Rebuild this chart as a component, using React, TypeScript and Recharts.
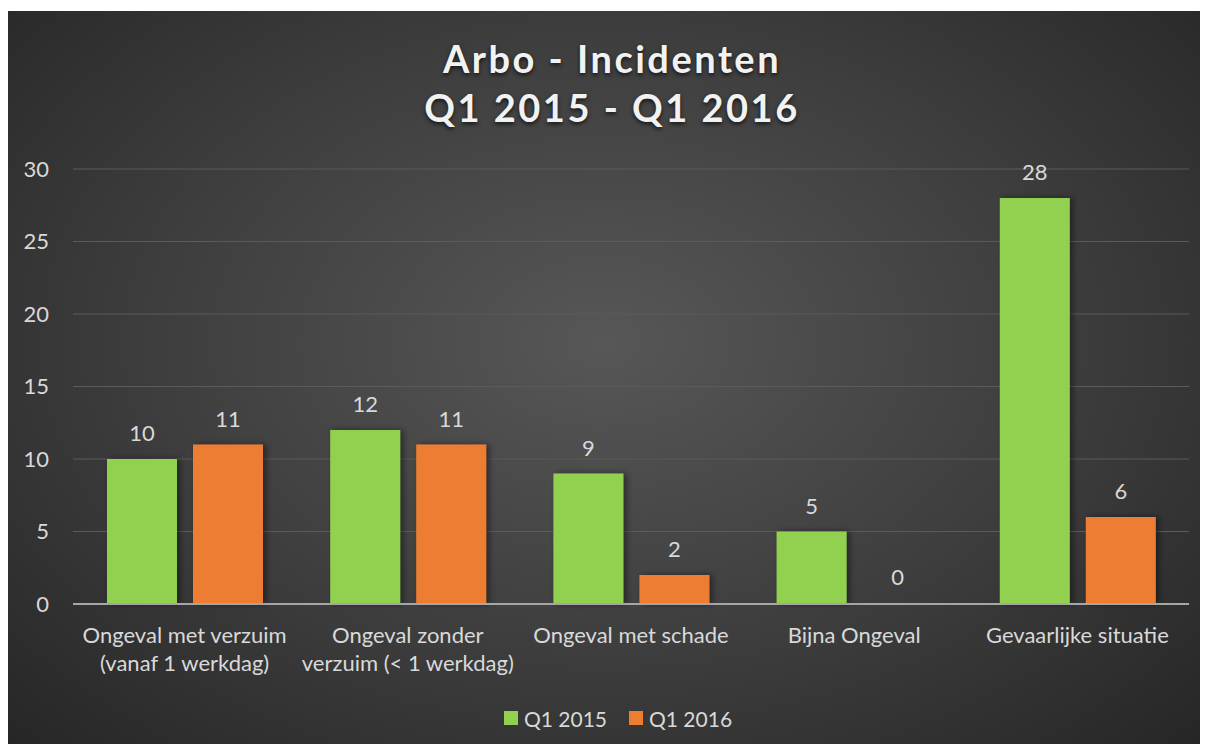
import React from 'react';
import { BarChart, Bar, XAxis, YAxis, CartesianGrid, Legend, LabelList, Rectangle } from 'recharts';

const categories = [
  'Ongeval met verzuim\n(vanaf 1 werkdag)',
  'Ongeval zonder\nverzuim (< 1 werkdag)',
  'Ongeval met schade',
  'Bijna Ongeval',
  'Gevaarlijke situatie',
];
const q2015Values = [10, 12, 9, 5, 28];
const q2016Values = [11, 11, 2, 0, 6];
const seriesNames = ['Q1 2015', 'Q1 2016'];
const seriesColors = ['#92D050', '#ED7D31'];
const yTicks = [0, 5, 10, 15, 20, 25, 30];
const titleLines = ['Arbo - Incidenten', 'Q1 2015 - Q1 2016'];

const data = categories.map((c, i) => ({ name: c, q2015: q2015Values[i], q2016: q2016Values[i] }));

const TEXT = '#d9d9d9';
const FONT = 'Lato, "Open Sans", sans-serif';

const XTick = (props: any) => {
  const { x, y, payload } = props;
  const lines = String(payload.value).split('\n');
  return (
    <g>
      {lines.map((l: string, i: number) => (
        <text key={i} x={x} y={y + 31 + i * 28} textAnchor="middle" fill={TEXT} fontSize={22} fontFamily={FONT}>
          {l}
        </text>
      ))}
    </g>
  );
};

const BarShape = (props: any) => {
  if (!props.value) return <g />;
  return <Rectangle {...props} />;
};

const LegendContent = () => (
  <div style={{ display: 'flex', justifyContent: 'center', alignItems: 'center', height: 30, paddingLeft: 39, fontFamily: FONT }}>
    {seriesNames.map((n, i) => (
      <div key={n} style={{ display: 'flex', alignItems: 'center', marginRight: i === 0 ? 22 : 0 }}>
        <div style={{ width: 14, height: 14, background: seriesColors[i], marginRight: 6 }} />
        <span style={{ color: TEXT, fontSize: 21 }}>{n}</span>
      </div>
    ))}
  </div>
);

export default function App() {
  return (
    <div
      style={{
        position: 'relative',
        top: 3,
        width: 1192,
        height: 736,
        background: 'radial-gradient(ellipse at 50% 45%, #575757 0%, #3d3d3d 55%, #262626 100%)',
        fontFamily: FONT,
      }}
    >
      <div
        style={{
          position: 'absolute',
          top: 23,
          left: 0,
          width: 1192,
          textAlign: 'center',
          paddingLeft: 16,
          boxSizing: 'border-box',
          color: '#f2f2f2',
          fontWeight: 700,
          fontSize: 38,
          lineHeight: '49px',
          letterSpacing: 2.5,
          textShadow: '0 2px 4px rgba(0,0,0,0.7)',
          fontFamily: FONT,
        }}
      >
        {titleLines.map((t) => (
          <div key={t}>{t}</div>
        ))}
      </div>
      <BarChart
        width={1192}
        height={736}
        data={data}
        margin={{ top: 158, right: 11, bottom: 14, left: 0 }}
        barSize={70}
        barGap={16}
      >
        <defs>
          <filter id="barShadow" x="-20%" y="-20%" width="150%" height="140%">
            <feDropShadow dx="3" dy="0" stdDeviation="3" floodColor="#000" floodOpacity="0.45" />
          </filter>
        </defs>
        <CartesianGrid vertical={false} stroke="#5b5b5b" strokeWidth={1} />
        <YAxis
          width={65}
          domain={[0, 30]}
          ticks={yTicks}
          axisLine={false}
          tickLine={false}
          tickSize={0}
          tickMargin={24}
          tick={{ fill: TEXT, fontSize: 22, fontFamily: FONT }}
        />
        <XAxis
          dataKey="name"
          height={99}
          interval={0}
          axisLine={{ stroke: '#a6a6a6', strokeWidth: 2 }}
          tickLine={false}
          tick={<XTick />}
        />
        <Legend verticalAlign="bottom" height={30} content={<LegendContent />} />
        <Bar
          dataKey="q2015"
          name={seriesNames[0]}
          fill={seriesColors[0]}
          filter="url(#barShadow)"
          minPointSize={1}
          shape={<BarShape />}
          isAnimationActive={false}
        >
          <LabelList dataKey="q2015" position="top" offset={18} fill={TEXT} fontSize={22} fontFamily={FONT} />
        </Bar>
        <Bar
          dataKey="q2016"
          name={seriesNames[1]}
          fill={seriesColors[1]}
          filter="url(#barShadow)"
          minPointSize={1}
          shape={<BarShape />}
          isAnimationActive={false}
        >
          <LabelList dataKey="q2016" position="top" offset={18} fill={TEXT} fontSize={22} fontFamily={FONT} />
        </Bar>
      </BarChart>
    </div>
  );
}
